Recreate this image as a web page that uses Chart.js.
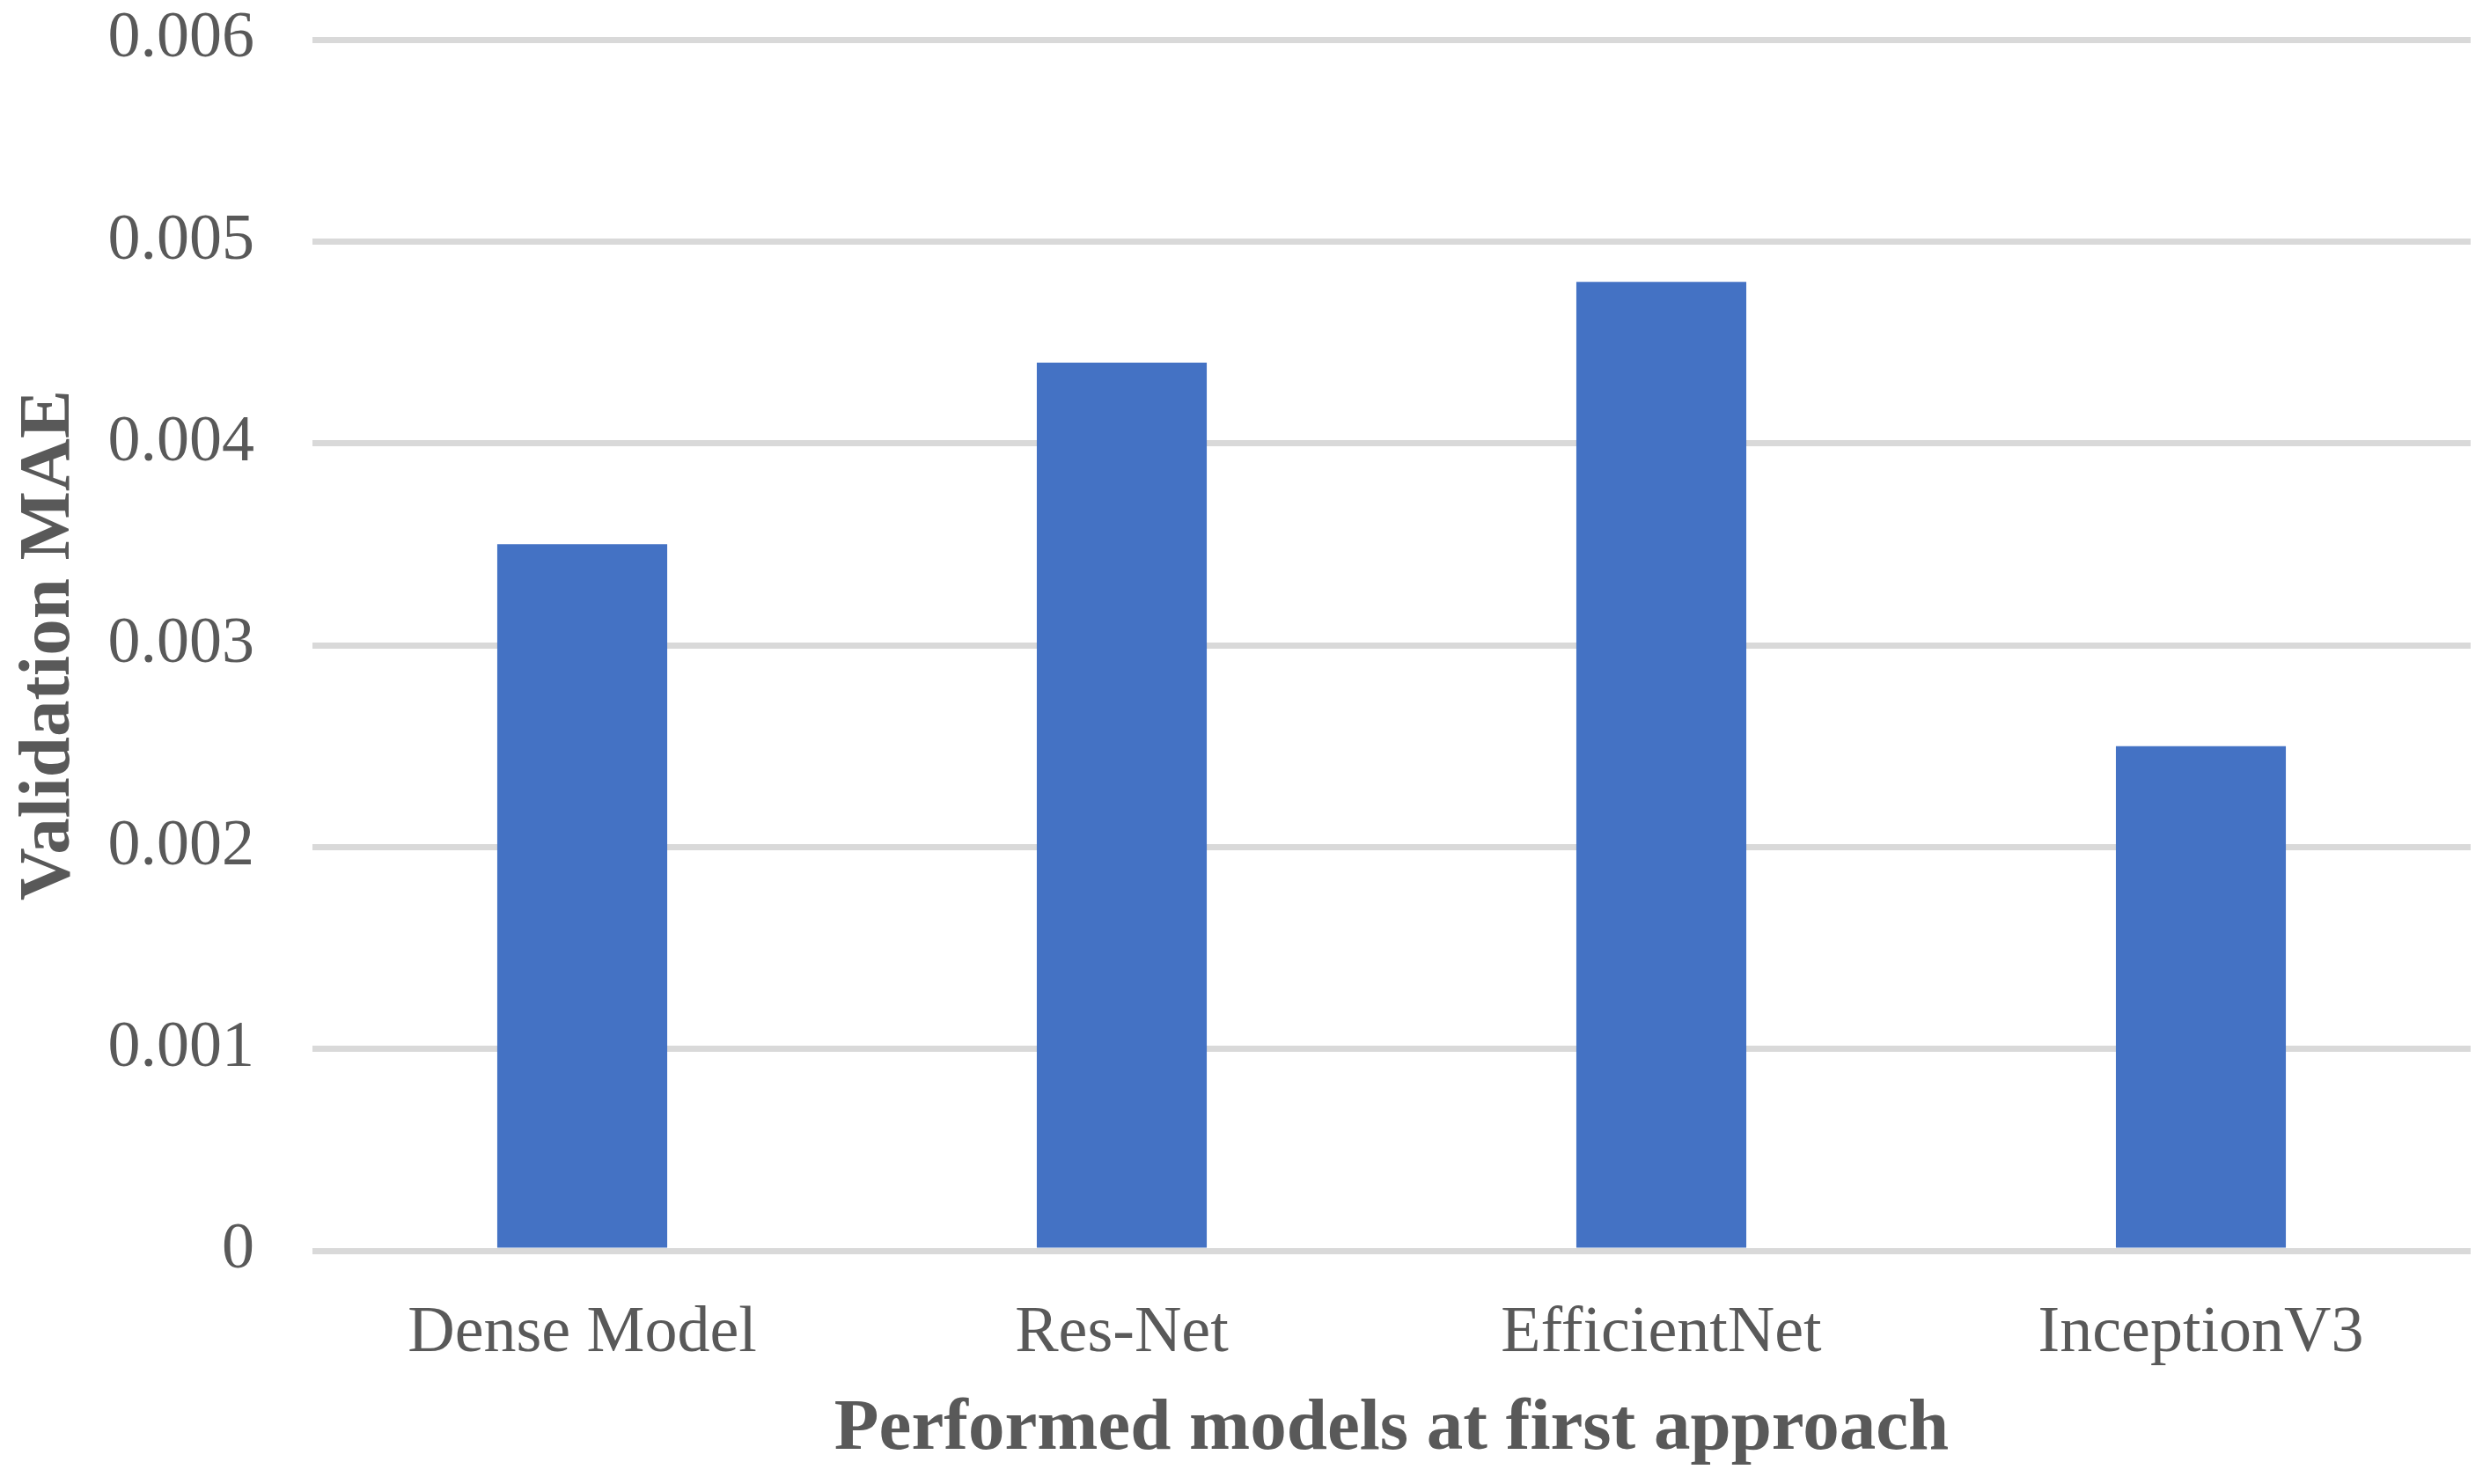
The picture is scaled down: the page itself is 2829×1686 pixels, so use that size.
<!DOCTYPE html>
<html>
<head>
<meta charset="utf-8">
<script src="https://cdn.jsdelivr.net/npm/chart.js@4/dist/chart.umd.min.js"></script>
<style>
  body { margin: 0; background: #fff; }
  canvas { display: block; }
</style>
</head>
<body>
<canvas id="chart" width="2829" height="1686"></canvas>
<script>
// Data.
const models = ['Dense Model', 'Res-Net', 'EfficientNet', 'InceptionV3'];
const validationMae = [0.0035, 0.0044, 0.0048, 0.0025];
const yTicks = [0, 0.001, 0.002, 0.003, 0.004, 0.005, 0.006];

const textColor = '#595959';
const serif = "'Liberation Serif', 'Times New Roman', serif";

const ctx = document.getElementById('chart');

new Chart(ctx, {
    type: 'bar',
    data: {
        labels: models,
        datasets: [
            {
                label: 'Validation MAE',
                data: validationMae,
                backgroundColor: '#4472C4',
                barPercentage: 0.315,
                categoryPercentage: 1,
            },
        ],
    },
    options: {
        responsive: false,
        animation: false,
        devicePixelRatio: 1,
        layout: {
            padding: { top: 45, right: 22, bottom: 0, left: 0 },
        },
        plugins: {
            legend: { display: false },
            tooltip: { enabled: false },
        },
        scales: {
            x: {
                grid: { display: false },
                border: { display: false },
                ticks: {
                    color: textColor,
                    font: { family: serif, size: 74 },
                    padding: 42,
                    maxRotation: 0,
                },
                title: {
                    display: true,
                    text: 'Performed models at first approach',
                    color: textColor,
                    font: { family: serif, size: 83, weight: 'bold' },
                    padding: { top: 0, bottom: 12 },
                },
                afterFit: (scale) => {
                    scale.height = 1686 - 1421;
                    scale.paddingLeft = 0;
                    scale.paddingRight = 0;
                },
            },
            y: {
                min: yTicks[0],
                max: yTicks[yTicks.length - 1],
                border: { display: false },
                grid: {
                    color: '#D9D9D9',
                    lineWidth: 7,
                    drawTicks: false,
                },
                afterBuildTicks: (scale) => {
                    scale.ticks = yTicks.map((v) => ({ value: v }));
                },
                ticks: {
                    color: textColor,
                    font: { family: serif, size: 74 },
                    padding: 66,
                    callback: (v) => (v === 0 ? '0' : v.toFixed(3)),
                },
                title: {
                    display: true,
                    text: 'Validation MAE',
                    color: textColor,
                    font: { family: serif, size: 83, weight: 'bold' },
                    padding: { top: 7, bottom: 0 },
                },
                afterFit: (scale) => {
                    scale.width = 355;
                    scale.paddingTop = 0;
                    scale.paddingBottom = 0;
                },
            },
        },
    },
});
</script>
</body>
</html>
